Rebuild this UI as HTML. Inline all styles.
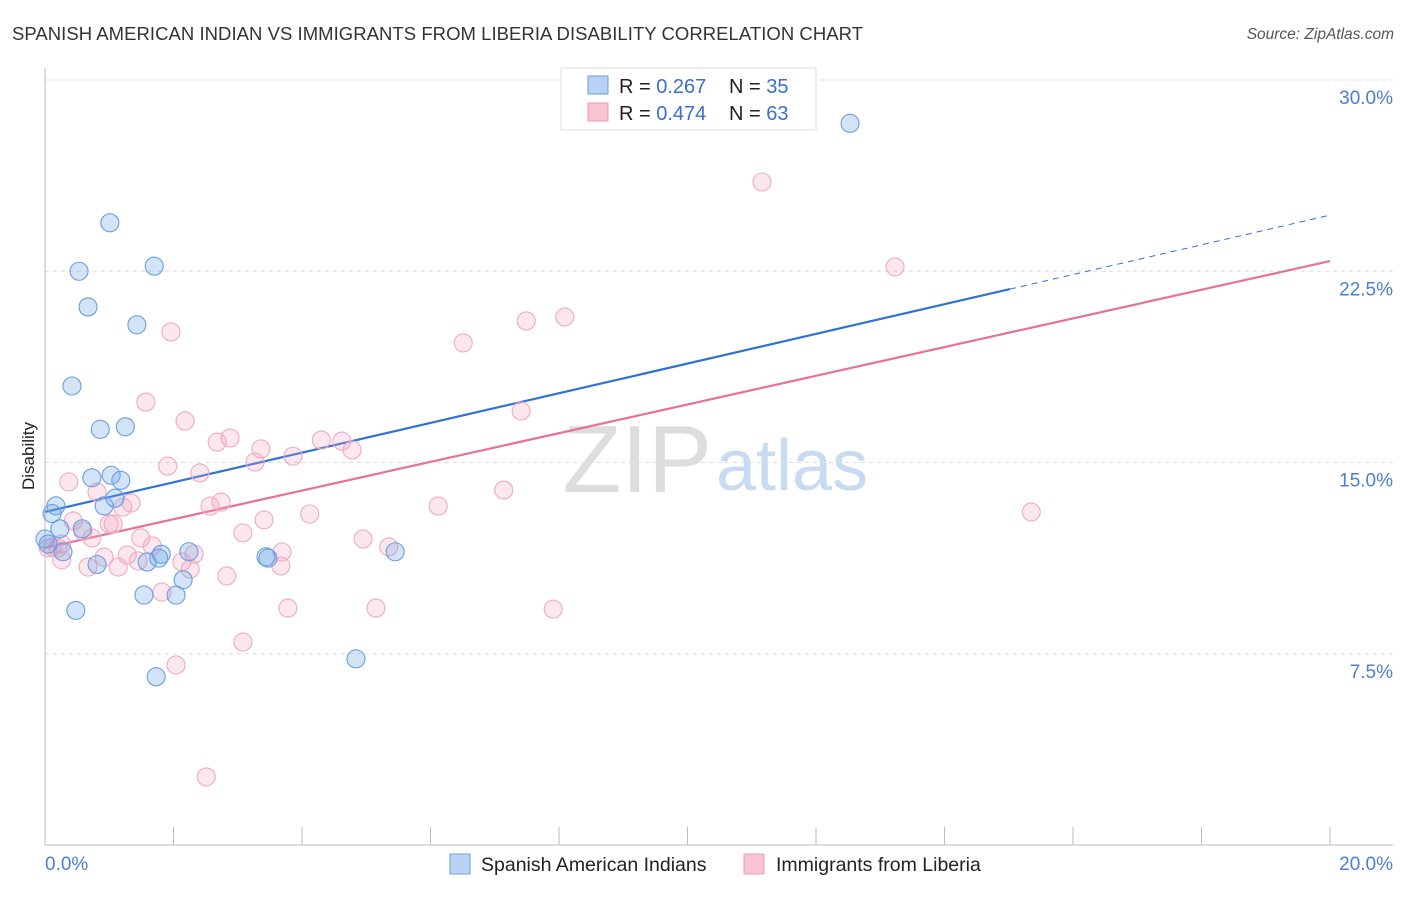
<!DOCTYPE html>
<html><head><meta charset="utf-8"><style>
body{margin:0;background:#fff;font-family:"Liberation Sans",sans-serif}
svg text{font-family:"Liberation Sans",sans-serif}
</style></head><body>
<svg id="chart" width="1406" height="892">
<text x="12" y="40" font-size="18.5" fill="#333" textLength="851">SPANISH AMERICAN INDIAN VS IMMIGRANTS FROM LIBERIA DISABILITY CORRELATION CHART</text>
<text x="1394" y="39" font-size="15.5" fill="#555" font-style="italic" text-anchor="end">Source: ZipAtlas.com</text>
<text x="712" y="492" font-size="96" fill="#ddd" text-anchor="end" font-family="Liberation Serif">ZIP</text>
<text x="716" y="490" font-size="72" fill="#c8dbf2">atlas</text>
<g id="grid"></g><g id="axes"></g><g id="trend"></g><g id="pts"></g>
<text transform="translate(34,456) rotate(-90)" font-size="17" fill="#222" text-anchor="middle">Disability</text>
<text x="45" y="870" font-size="19" fill="#4a7fd4">0.0%</text>
<text x="1393" y="870" font-size="19" fill="#4a7fd4" text-anchor="end">20.0%</text>
<g>
<rect x="561" y="68" width="255" height="62" fill="#fff" stroke="#ddd"/>
<rect x="588" y="76" width="20" height="18" fill="#b8d2f4" stroke="#6a9de0"/>
<rect x="588" y="103" width="20" height="18" fill="#f8c4d4" stroke="#e89ab4"/>
<text x="619" y="93" font-size="20" fill="#222">R = <tspan fill="#3a70cc">0.267</tspan></text>
<text x="729" y="93" font-size="20" fill="#222">N = <tspan fill="#3a70cc">35</tspan></text>
<text x="619" y="120" font-size="20" fill="#222">R = <tspan fill="#3a70cc">0.474</tspan></text>
<text x="729" y="120" font-size="20" fill="#222">N = <tspan fill="#3a70cc">63</tspan></text>
</g>
<g>
<rect x="450" y="854" width="20" height="20" fill="#b8d2f4" stroke="#6a9de0"/>
<text x="481" y="871" font-size="19.5" fill="#222">Spanish American Indians</text></g>
<g>
<rect x="744" y="854" width="20" height="20" fill="#f8c4d4" stroke="#e89ab4"/>
<text x="776" y="871" font-size="19.5" fill="#222">Immigrants from Liberia</text></g>
</svg>
<script>
const yTicks=[7.5,15,22.5,30];
const yTickLabels=["7.5%","15.0%","22.5%","30.0%"];
const xTicks=[0,2,4,6,8,10,12,14,16,18,20];
const blueX=[12.53,1.01,0.53,1.70,0.67,1.43,0.42,0.86,1.25,0.73,1.03,1.18,1.09,0.92,0.17,0.11,0.23,0.58,0.28,0.81,1.81,1.59,1.77,2.24,3.44,3.47,5.45,1.54,2.04,2.15,0.48,4.84,1.73,0,0.05];
const blueY=[28.3,24.4,22.5,22.7,21.1,20.4,18.0,16.3,16.4,14.4,14.5,14.3,13.6,13.3,13.3,13.0,12.4,12.4,11.5,11.0,11.4,11.1,11.25,11.5,11.3,11.25,11.5,9.8,9.8,10.4,9.2,7.3,6.6,12.0,11.8];
const pinkX=[11.16,13.23,1.96,8.09,7.49,6.51,1.57,7.41,2.18,2.68,2.88,3.36,4.30,4.62,4.78,3.86,3.27,1.91,2.41,0.37,7.14,0.81,2.74,2.57,1.34,1.21,6.12,15.35,3.41,4.12,0.44,1.00,1.06,3.08,0.59,0.73,1.49,4.95,1.67,5.35,0.26,0.11,0.2,2.32,3.69,0.92,1.28,1.45,2.13,0.26,0.67,1.14,2.26,3.67,2.83,3.78,5.15,7.91,1.82,3.08,2.04,2.51,0.05];
const pinkY=[26.0,22.67,20.12,20.71,20.55,19.69,17.37,17.02,16.63,15.80,15.96,15.53,15.88,15.84,15.49,15.25,15.02,14.86,14.59,14.24,13.92,13.84,13.45,13.29,13.41,13.25,13.29,13.06,12.75,12.98,12.71,12.59,12.59,12.24,12.31,12.04,12.04,12.0,11.73,11.69,11.8,11.69,11.65,11.41,11.49,11.29,11.37,11.14,11.1,11.18,10.9,10.9,10.82,10.94,10.55,9.29,9.29,9.25,9.92,7.96,7.06,2.67,11.65];
const blueTrend=[13.06,24.7], blueSolidEnd=15.02;
const pinkTrend=[11.65,22.9];
const NS="http://www.w3.org/2000/svg";
const sx=v=>45+v*64.25, sy=v=>845-v*25.5;
function mk(t,a,p){const e=document.createElementNS(NS,t);for(const k in a)e.setAttribute(k,a[k]);document.getElementById(p).appendChild(e);return e;}
yTicks.forEach((v,i)=>{
 const l=mk('line',{x1:45,x2:1393,y1:sy(v),y2:sy(v),stroke:'#ddd','stroke-dasharray':'4,4'},'grid');
 
 
 const t=mk('text',{x:1393,y:sy(v)+24,'font-size':19,fill:'#4a7fd4','text-anchor':'end'},'grid');
 t.textContent=yTickLabels[i];
 
 
});
let ax=mk('line',{x1:45,x2:1393,y1:845,y2:845,stroke:'#bbb'},'axes');


let ay=mk('line',{x1:45,x2:45,y1:68,y2:845,stroke:'#bbb'},'axes');


xTicks.forEach(v=>{
 const l=mk('line',{x1:sx(v),x2:sx(v),y1:827,y2:845,stroke:'#bbb'},'axes');
 
 
});
const lineY=(tr,x)=>tr[0]+(tr[1]-tr[0])*x/20;
let b1=mk('line',{x1:sx(0),y1:sy(blueTrend[0]),x2:sx(blueSolidEnd),y2:sy(lineY(blueTrend,blueSolidEnd)),stroke:'#2f72d8','stroke-width':2.2},'trend');


let b2=mk('line',{x1:sx(blueSolidEnd),y1:sy(lineY(blueTrend,blueSolidEnd)),x2:sx(20),y2:sy(blueTrend[1]),stroke:'#2f72d8','stroke-width':1,'stroke-dasharray':'6,5'},'trend');


let p1=mk('line',{x1:sx(0),y1:sy(pinkTrend[0]),x2:sx(20),y2:sy(pinkTrend[1]),stroke:'#e8709a','stroke-width':2.2},'trend');


pinkX.forEach((x,i)=>{
 const c=mk('circle',{cx:sx(x),cy:sy(pinkY[i]),r:9,fill:'rgba(244,160,188,0.25)',stroke:'#eeaac2','stroke-width':1.1},'pts');
 
 
});
blueX.forEach((x,i)=>{
 const c=mk('circle',{cx:sx(x),cy:sy(blueY[i]),r:9,fill:'rgba(110,165,230,0.3)',stroke:'#6a9de0','stroke-width':1.1},'pts');
 
 
});
</script>
</body></html>
